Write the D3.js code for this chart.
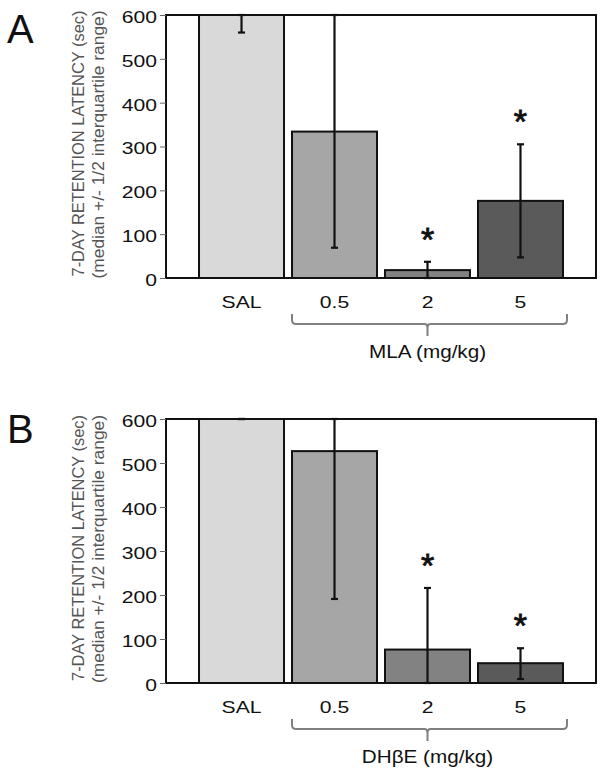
<!DOCTYPE html>
<html>
<head>
<meta charset="utf-8">
<script src="https://cdn.jsdelivr.net/npm/d3@7"></script>
<style>
  html, body { margin: 0; padding: 0; background: #fff; }
  svg { display: block; font-family: "Liberation Sans", Arial, sans-serif; }
</style>
</head>
<body>
<svg id="chart" width="603" height="771"></svg>
<script>
// ---------- DATA ----------
const categories = ["SAL", "0.5", "2", "5"];
const yTicks = [0, 100, 200, 300, 400, 500, 600];

const mlaMedian = [600, 334, 18, 176];
const mlaLow    = [560, 69, 0, 47];
const mlaHigh   = [600, 600, 37, 305];
const mlaSig    = [false, false, true, true];

const dhbeMedian = [600, 527, 76, 45];
const dhbeLow    = [600, 191, 0, 9];
const dhbeHigh   = [600, 600, 216, 79];
const dhbeSig    = [false, false, true, true];

const yTitle1 = "7-DAY RETENTION LATENCY (sec)";
const yTitle2 = "(median +/- 1/2 interquartile range)";

// ---------- STYLE ----------
const barColors = ["#d9d9d9", "#a6a6a6", "#828282", "#5a5a5a"];
const svg = d3.select("#chart");
const left = 166, right = 596;
const hs = 1.28; // horizontal text stretch seen in the reference

function panel(opts) {
  const {top, bottom, letter, letterBaseline, median, low, high, sig, drug} = opts;
  const g = svg.append("g");
  const x = d3.scaleBand().domain(categories).range([left, right])
    .paddingInner(0.086).paddingOuter(0.355);
  const y = d3.scaleLinear().domain([0, 600]).range([bottom, top]);

  const data = categories.map((c, i) => ({c, i, m: median[i], lo: low[i], hi: high[i], s: sig[i]}));
  g.selectAll("rect.bar").data(data).enter().append("rect")
    .attr("class", "bar")
    .attr("x", d => x(d.c))
    .attr("width", x.bandwidth())
    .attr("y", d => y(d.m))
    .attr("height", d => y(0) - y(d.m))
    .attr("fill", (d, i) => barColors[i])
    .attr("stroke", "#111")
    .attr("stroke-width", 2);

  const cap = 3.5;
  const eb = g.selectAll("g.err").data(data).enter().append("g").attr("class", "err")
    .attr("stroke", "#111").attr("stroke-width", 2.2);
  eb.append("line")
    .attr("x1", d => x(d.c) + x.bandwidth() / 2).attr("x2", d => x(d.c) + x.bandwidth() / 2)
    .attr("y1", d => y(d.lo)).attr("y2", d => y(d.hi));
  eb.append("line")
    .attr("x1", d => x(d.c) + x.bandwidth() / 2 - cap).attr("x2", d => x(d.c) + x.bandwidth() / 2 + cap)
    .attr("y1", d => y(d.lo)).attr("y2", d => y(d.lo));
  eb.append("line")
    .attr("x1", d => x(d.c) + x.bandwidth() / 2 - cap).attr("x2", d => x(d.c) + x.bandwidth() / 2 + cap)
    .attr("y1", d => y(d.hi)).attr("y2", d => y(d.hi));

  g.selectAll("text.star").data(data.filter(d => d.s)).enter().append("text")
    .attr("class", "star")
    .attr("x", d => x(d.c) + x.bandwidth() / 2)
    .attr("y", d => y(d.hi) - 30 + 19)
    .attr("text-anchor", "middle")
    .attr("font-size", 34)
    .attr("fill", "#111")
    .attr("stroke", "#111")
    .attr("stroke-width", 0.9)
    .text("*");

  g.append("rect")
    .attr("x", left).attr("y", top)
    .attr("width", right - left).attr("height", bottom - top)
    .attr("fill", "none").attr("stroke", "#111").attr("stroke-width", 2);

  const ax = g.append("g").attr("transform", `translate(${left},0)`)
    .call(d3.axisLeft(y).tickValues(yTicks).tickSize(6).tickPadding(3));
  ax.select(".domain").remove();
  ax.selectAll(".tick line").attr("stroke", "#666").attr("stroke-width", 1);
  ax.selectAll(".tick text")
    .attr("font-family", "'Liberation Sans', Arial, sans-serif")
    .attr("font-size", 16.5)
    .attr("fill", "#111")
    .attr("x", -9 / hs)
    .attr("dy", "0.45em")
    .attr("transform", `scale(${hs},1)`);

  g.selectAll("text.cat").data(data).enter().append("text")
    .attr("class", "cat")
    .attr("transform", d => `translate(${x(d.c) + x.bandwidth() / 2},${bottom + 30}) scale(${hs},1)`)
    .attr("text-anchor", "middle")
    .attr("font-size", 16.5)
    .attr("fill", "#111")
    .text(d => d.c);

  const xL = x(categories[1]), xR = x(categories[3]) + x.bandwidth() + 4;
  const xC = (x(categories[1]) + x(categories[3]) + x.bandwidth()) / 2;
  const yT = bottom + 36, yM = bottom + 46, yTip = bottom + 58, r = 4;
  const p = d3.path();
  p.moveTo(xL, yT); p.lineTo(xL, yM - r); p.quadraticCurveTo(xL, yM, xL + r, yM);
  p.lineTo(xC - 3, yM); p.quadraticCurveTo(xC, yM, xC, yM + 4); p.lineTo(xC, yTip);
  p.moveTo(xC, yM + 4); p.quadraticCurveTo(xC, yM, xC + 3, yM);
  p.lineTo(xR - r, yM); p.quadraticCurveTo(xR, yM, xR, yM - r); p.lineTo(xR, yT);
  g.append("path").attr("d", p.toString()).attr("fill", "none")
    .attr("stroke", "#808080").attr("stroke-width", 2);

  g.append("text")
    .attr("transform", `translate(${xC},${bottom + 80}) scale(1.15,1)`)
    .attr("text-anchor", "middle")
    .attr("font-size", 18)
    .attr("fill", "#111")
    .text(drug);

  const cy = (top + bottom) / 2 - 3;
  g.append("text")
    .attr("transform", `translate(84,${cy}) rotate(-90)`)
    .attr("text-anchor", "middle")
    .attr("font-size", 16.5)
    .attr("fill", "#555")
    .attr("textLength", 266).attr("lengthAdjust", "spacingAndGlyphs")
    .text(yTitle1);
  g.append("text")
    .attr("transform", `translate(104,${cy + 1}) rotate(-90)`)
    .attr("text-anchor", "middle")
    .attr("font-size", 16.5)
    .attr("fill", "#555")
    .attr("textLength", 268).attr("lengthAdjust", "spacingAndGlyphs")
    .text(yTitle2);

  g.append("text")
    .attr("x", 7).attr("y", letterBaseline)
    .attr("font-size", 40)
    .attr("fill", "#111")
    .text(letter);
}

panel({top: 15, bottom: 278, letter: "A", letterBaseline: 43,
  median: mlaMedian, low: mlaLow, high: mlaHigh, sig: mlaSig, drug: "MLA (mg/kg)"});
panel({top: 419, bottom: 683, letter: "B", letterBaseline: 443,
  median: dhbeMedian, low: dhbeLow, high: dhbeHigh, sig: dhbeSig, drug: "DHβE (mg/kg)"});
</script>
</body>
</html>
